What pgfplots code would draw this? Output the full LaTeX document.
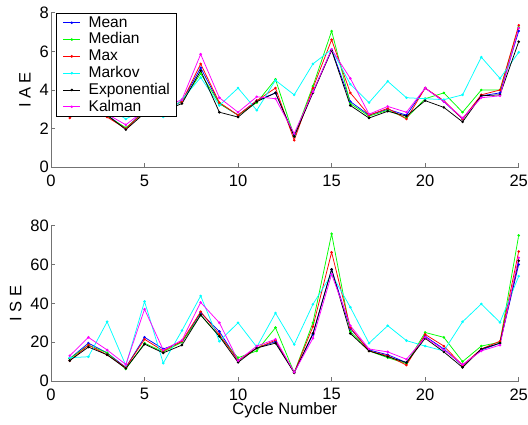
\documentclass[border=0pt]{standalone}
\usepackage{fontspec}
\setmainfont{Liberation Sans}
\usepackage{pgfplots}
\pgfplotsset{compat=1.18}
\usepackage{pgfplotstable}

\pgfplotstableread{
x mean median max markov exp kalman
1 2.8 2.75 2.55 3.0 2.75 2.9
2 3.3 3.3 3.3 3.5 3.2 3.4
3 2.7 2.65 2.6 3.1 2.7 2.75
4 2.0 2.05 2.0 2.5 1.95 2.2
5 2.95 2.85 2.9 3.0 2.8 2.95
6 3.0 3.0 3.0 2.6 2.9 3.1
7 3.4 3.4 3.4 3.5 3.3 3.5
8 5.15 4.85 5.35 4.65 5.0 5.85
9 3.3 3.3 3.35 3.2 2.85 3.6
10 2.7 2.7 2.7 4.1 2.6 2.85
11 3.45 3.35 3.45 2.95 3.4 3.65
12 3.85 4.55 4.1 4.5 3.85 3.55
13 1.65 1.6 1.4 3.75 1.6 1.75
14 3.9 4.2 4.1 5.35 3.85 3.9
15 6.1 7.05 6.6 6.1 6.05 6.1
16 3.4 3.3 3.85 4.3 3.2 4.6
17 2.7 2.65 2.7 3.35 2.55 2.75
18 3.0 2.95 3.05 4.45 2.9 3.15
19 2.7 2.55 2.5 3.6 2.65 2.85
20 4.1 3.55 4.1 3.55 3.45 4.1
21 3.4 3.85 3.45 3.5 3.1 3.4
22 2.5 2.85 2.5 3.75 2.35 2.55
23 3.7 4.0 3.75 5.7 3.7 3.6
24 3.85 4.0 4.0 4.6 3.75 3.7
25 7.05 7.25 7.35 5.95 6.5 7.2
}\iae

\pgfplotstableread{
x mean median max markov exp kalman
1 11.5 11.5 10.5 12 10.5 13
2 19.5 18.5 18.5 12.5 17.5 22.5
3 14.5 14.5 13.5 30.5 13.5 16
4 7 6.2 7 8 6.5 8.5
5 22.5 19.5 21.5 41 19 37
6 16.5 15 15.5 9.2 14.5 16
7 20 20 20.5 26 18.5 21
8 35.2 34 35.7 43.8 34 40.5
9 25.5 23 24 20.5 23 30
10 10.5 12 10.5 30 9.6 10.5
11 17 15.5 17 17.5 17 18
12 20.3 27.5 21 35 19.5 21.5
13 4.3 4.3 4.3 18.8 4.3 4.5
14 24 30 28 39.5 24.5 22
15 57.5 75.8 66.3 55 57.5 55
16 27 25.5 27.5 38 24.5 28.5
17 16 15.5 15.5 19.5 15.5 16.5
18 13.5 12 13 28.5 12.5 15
19 9.5 9 8.2 20.8 9.5 11.2
20 23 25 24 18 22 22.5
21 16.5 22.5 18 15.5 15 16
22 8 10 8 30.5 7 8.5
23 16 18 16.5 39.7 16.5 15.5
24 19.5 20 20.5 30.2 19.5 18.5
25 60 75 66.7 54 62 63.5
}\ise

\definecolor{mblue}{rgb}{0,0,1}
\definecolor{mgreen}{rgb}{0,1,0}
\definecolor{mred}{rgb}{1,0,0}
\definecolor{mcyan}{rgb}{0,1,1}
\definecolor{mmag}{rgb}{1,0,1}

\pgfplotsset{
 myax/.style={
  scale only axis, width=467.7bp,
  xmin=0, xmax=25, xtick={0,5,...,25},
  axis x line*=bottom, axis y line*=left,
  axis line style={-, draw=black!55, line width=0.9bp},
  tick align=inside, major tick length=4bp,
  tick style={draw=black!55, line width=0.9bp},
  minor tick num=0,
  /pgf/number format/assume math mode=true,
  tick label style={font=\fontsize{16.6}{19}\selectfont, text=black},
  xticklabel style={yshift=-4bp},
  yticklabel style={xshift=1.3bp},
  label style={font=\fontsize{16.6}{19}\selectfont},
  every axis plot/.append style={line width=0.75bp, mark=*, mark size=0.9bp, mark options={solid}},
 },
 sMean/.style={color=mblue},
 sMedian/.style={color=mgreen},
 sMax/.style={color=mred},
 sMarkov/.style={color=mcyan},
 sExp/.style={color=black},
 sKal/.style={color=mmag},
}

\begin{document}
\begin{tikzpicture}
\path[use as bounding box] (0,0) rectangle (528bp,-425bp);

\begin{axis}[myax,
  at={(51bp,-167.3bp)}, anchor=south west,
  height=154.6bp,
  ymin=0, ymax=8, ytick={0,2,4,6,8},
  ylabel={I A E},
  ylabel style={at={(axis description cs:-0.0556,0.5)}, anchor=center},
  legend style={at={(rel axis cs:0.0107,1)}, anchor=north west,
    draw=black, line width=0.8bp, fill=white,
    font=\fontsize{15.6}{17}\selectfont,
    inner xsep=6.5bp, inner ysep=2.4bp,
    nodes={inner sep=0bp, text height=11.5bp, text depth=3bp},
    row sep=2.3bp, column sep=8bp},
  legend cell align=left,
]
\addplot[sMean] table[x=x,y=mean]{\iae};
\addplot[sMedian] table[x=x,y=median]{\iae};
\addplot[sMax] table[x=x,y=max]{\iae};
\addplot[sMarkov] table[x=x,y=markov]{\iae};
\addplot[sExp] table[x=x,y=exp]{\iae};
\addplot[sKal] table[x=x,y=kalman]{\iae};
\legend{Mean,Median,Max,Markov,Exponential,Kalman}
\end{axis}

\begin{axis}[myax,
  at={(51bp,-381bp)}, anchor=south west,
  height=155.3bp,
  ymin=0, ymax=80, ytick={0,20,...,80},
  ylabel={I S E},
  ylabel style={at={(axis description cs:-0.0757,0.5)}, anchor=center},
  xlabel={Cycle Number},
  xlabel style={at={(axis description cs:0.5,-0.191)}, anchor=center},
]
\addplot[sMean] table[x=x,y=mean]{\ise};
\addplot[sMedian] table[x=x,y=median]{\ise};
\addplot[sMax] table[x=x,y=max]{\ise};
\addplot[sMarkov] table[x=x,y=markov]{\ise};
\addplot[sExp] table[x=x,y=exp]{\ise};
\addplot[sKal] table[x=x,y=kalman]{\ise};
\end{axis}
\end{tikzpicture}
\end{document}
